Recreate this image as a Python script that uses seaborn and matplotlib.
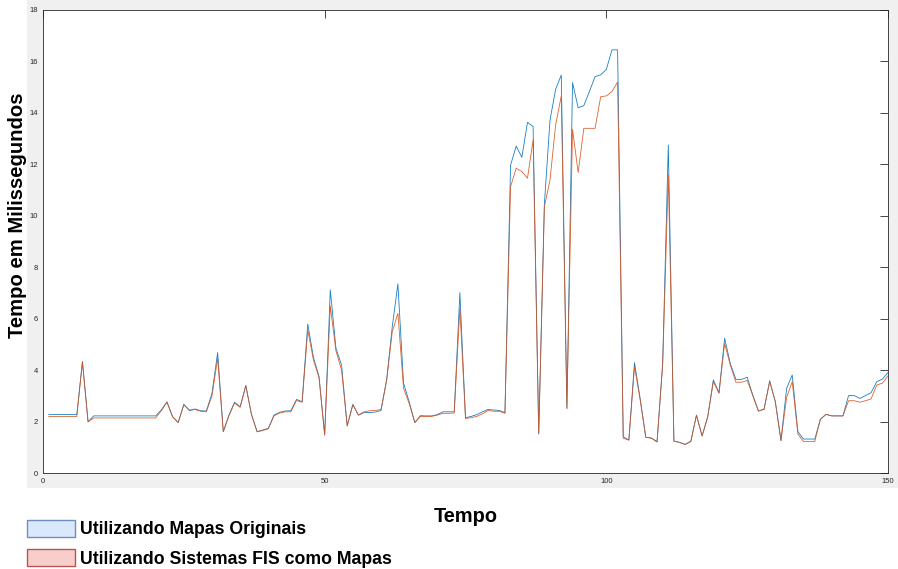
import matplotlib
matplotlib.use('Agg')
import matplotlib.pyplot as plt
import seaborn as sns
import pandas as pd
from matplotlib.patches import Patch, Rectangle

# ---------------- data ----------------
tempo = list(range(1, 151))

originais = [
    2.27, 2.27, 2.27, 2.27, 2.27, 2.27, 4.33, 1.99, 2.22, 2.22,
    2.22, 2.22, 2.22, 2.22, 2.22, 2.22, 2.22, 2.22, 2.22, 2.22,
    2.45, 2.77, 2.19, 1.96, 2.67, 2.42, 2.49, 2.42, 2.41, 3.10,
    4.68, 1.61, 2.25, 2.75, 2.58, 3.40, 2.29, 1.61, 1.67, 1.74,
    2.25, 2.36, 2.41, 2.42, 2.86, 2.77, 5.79, 4.50, 3.75, 1.48,
    7.12, 4.85, 4.20, 1.83, 2.67, 2.25, 2.35, 2.35, 2.37, 2.43,
    3.62, 5.69, 7.35, 3.49, 2.77, 1.96, 2.23, 2.22, 2.22, 2.27,
    2.38, 2.38, 2.38, 7.01, 2.15, 2.20, 2.27, 2.38, 2.47, 2.45,
    2.43, 2.35, 11.97, 12.71, 12.27, 13.63, 13.47, 1.52, 10.45, 13.72,
    14.92, 15.47, 2.51, 15.18, 14.20, 14.28, 14.83, 15.41, 15.48, 15.69,
    16.45, 16.45, 1.41, 1.28, 4.29, 2.90, 1.39, 1.36, 1.22, 4.26,
    12.75, 1.24, 1.19, 1.11, 1.24, 2.25, 1.44, 2.19, 3.62, 3.12,
    5.24, 4.26, 3.64, 3.64, 3.72, 3.03, 2.41, 2.48, 3.59, 2.77,
    1.26, 3.29, 3.81, 1.61, 1.32, 1.32, 1.32, 2.09, 2.28, 2.22,
    2.22, 2.22, 3.01, 3.01, 2.90, 3.01, 3.12, 3.55, 3.65, 3.91,
]

fis = [
    2.20, 2.20, 2.20, 2.20, 2.20, 2.20, 4.33, 1.99, 2.14, 2.14,
    2.14, 2.14, 2.14, 2.14, 2.14, 2.14, 2.14, 2.14, 2.14, 2.14,
    2.42, 2.75, 2.19, 1.96, 2.65, 2.45, 2.47, 2.40, 2.38, 3.00,
    4.46, 1.60, 2.22, 2.72, 2.55, 3.40, 2.27, 1.60, 1.65, 1.72,
    2.22, 2.33, 2.38, 2.38, 2.82, 2.75, 5.56, 4.40, 3.70, 1.48,
    6.49, 4.75, 4.00, 1.83, 2.65, 2.25, 2.38, 2.42, 2.43, 2.47,
    3.60, 5.49, 6.21, 3.29, 2.70, 1.96, 2.20, 2.20, 2.20, 2.25,
    2.32, 2.32, 2.33, 6.40, 2.12, 2.15, 2.20, 2.30, 2.43, 2.40,
    2.40, 2.32, 11.13, 11.85, 11.72, 11.46, 12.95, 1.52, 10.35, 11.39,
    13.53, 14.66, 2.51, 13.36, 11.68, 13.40, 13.40, 13.40, 14.63, 14.66,
    14.83, 15.20, 1.35, 1.28, 4.13, 2.85, 1.39, 1.35, 1.20, 4.20,
    11.59, 1.24, 1.19, 1.11, 1.22, 2.25, 1.44, 2.19, 3.55, 3.10,
    5.04, 4.20, 3.53, 3.53, 3.60, 3.00, 2.41, 2.48, 3.55, 2.77,
    1.26, 2.94, 3.55, 1.52, 1.22, 1.22, 1.22, 2.09, 2.28, 2.22,
    2.22, 2.22, 2.81, 2.81, 2.75, 2.81, 2.88, 3.42, 3.49, 3.78,
]

series_names = ['Utilizando Mapas Originais', 'Utilizando Sistemas FIS como Mapas']
x_ticks = [0, 50, 100, 150]
y_ticks = [0, 2, 4, 6, 8, 10, 12, 14, 16, 18]
x_label = 'Tempo'
y_label = 'Tempo em Milissegundos'

# ---------------- style ----------------
sns.set_theme(style='white')
plt.rcParams['font.family'] = ['Liberation Sans', 'DejaVu Sans']

line_colors = ['#0072BD', '#D95319']
legend_faces = ['#dae8fc', '#f8cecc']
legend_edges = ['#6c8ebf', '#b85450']
axis_color = '#262626'

W, H = 898, 569
fig = plt.figure(figsize=(W / 100, H / 100), dpi=100)
fig.patch.set_facecolor('white')
# light gray panel behind the axes (MATLAB figure background)
fig.patches.append(Rectangle((27 / W, 1 - 488 / H), 1 - 27 / W, 488 / H,
                             transform=fig.transFigure, facecolor='#f0f0f0',
                             edgecolor='none', zorder=-10))

ax = fig.add_axes([43 / W, 1 - 473 / H, 845 / W, 463 / H])
ax.set_facecolor('white')

df = pd.DataFrame({
    'Tempo': tempo * 2,
    'ms': originais + fis,
    'Serie': [series_names[0]] * len(tempo) + [series_names[1]] * len(tempo),
})
sns.lineplot(data=df, x='Tempo', y='ms', hue='Serie', hue_order=series_names,
             palette=line_colors, linewidth=0.6, alpha=0.9, ax=ax, legend=False,
             errorbar=None)

ax.set_xlim(0, 150)
ax.set_ylim(0, 18)
ax.set_xticks(x_ticks)
ax.set_yticks(y_ticks)
ax.tick_params(axis='both', which='both', direction='in', length=6, width=0.6,
               color=axis_color, labelcolor=axis_color, labelsize=5.5, pad=3.5,
               top=True, right=True)
for s in ax.spines.values():
    s.set_visible(True)
    s.set_color(axis_color)
    s.set_linewidth(0.6)

ax.set_xlabel(x_label, fontsize=14.4, fontweight='bold', color='black')
ax.set_ylabel(y_label, fontsize=14.6, fontweight='bold', color='black')
ax.xaxis.set_label_coords((466 - 43) / 845, (473 - 507) / 463)
ax.yaxis.set_label_coords((27 - 43) / 845, (473 - 215) / 463)

handles = [Patch(facecolor=f, edgecolor=e, linewidth=1.0)
           for f, e in zip(legend_faces, legend_edges)]
fig.legend(handles=handles, labels=series_names, loc='upper left',
           bbox_to_anchor=(27 / W, 1 - 520 / H), frameon=False,
           prop={'size': 12.7, 'weight': 'bold'}, handlelength=2.7,
           handleheight=1.1, handletextpad=0.3, labelspacing=0.62,
           borderpad=0, borderaxespad=0, labelcolor='black')

fig.savefig('out.png', dpi=100, facecolor='white')
